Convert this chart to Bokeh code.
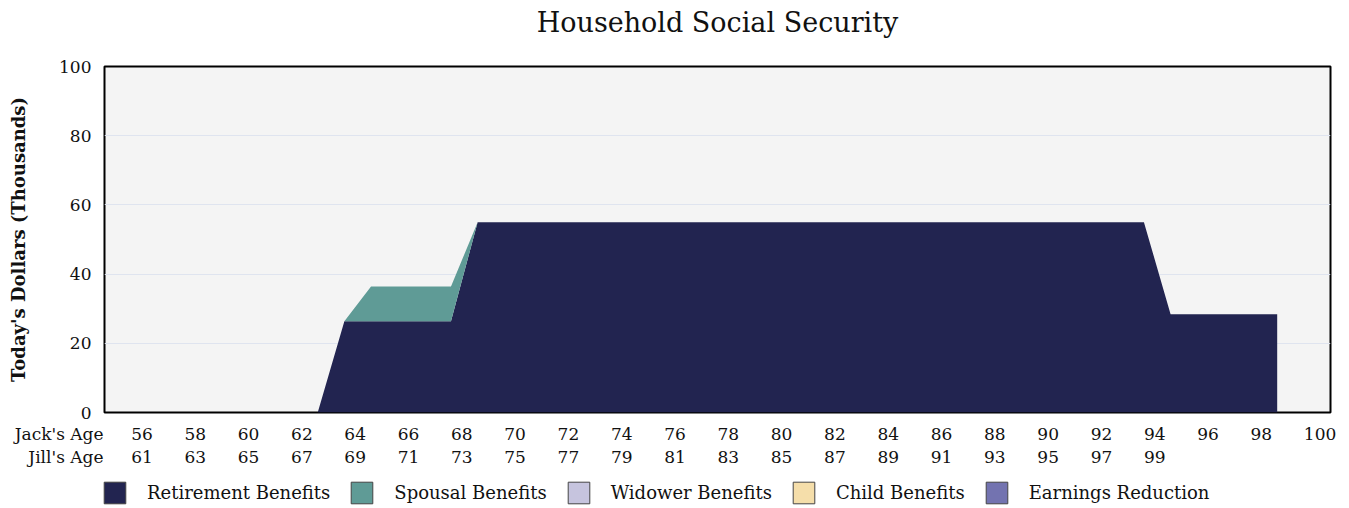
import numpy as np
from bokeh.plotting import figure
from bokeh.layouts import column
from bokeh.models import (Range1d, ColumnDataSource, Legend, LegendItem,
                          FixedTicker)
from bokeh.core.properties import value
from bokeh.embed import file_html
from bokeh.resources import INLINE

# ---------------- data ----------------
chart_title = "Household Social Security"
jack_age = [56, 57, 58, 59, 60, 61, 62, 63, 64, 65, 66, 67, 68, 69, 70, 71, 72,
            73, 74, 75, 76, 77, 78, 79, 80, 81, 82, 83, 84, 85, 86, 87, 88, 89,
            90, 91, 92, 93, 94, 95, 96, 97, 98, 99]
retirement = [0, 0, 0, 0, 0, 0, 0, 0, 26.4, 26.4, 26.4, 26.4, 26.4, 55, 55, 55,
              55, 55, 55, 55, 55, 55, 55, 55, 55, 55, 55, 55, 55, 55, 55, 55, 55,
              55, 55, 55, 55, 55, 55, 28.4, 28.4, 28.4, 28.4, 28.4]
spousal = [0, 0, 0, 0, 0, 0, 0, 0, 0, 10, 10, 10, 10, 0, 0, 0, 0, 0, 0, 0, 0, 0,
           0, 0, 0, 0, 0, 0, 0, 0, 0, 0, 0, 0, 0, 0, 0, 0, 0, 0, 0, 0, 0, 0]
widower = [0, 0, 0, 0, 0, 0, 0, 0, 0, 0, 0, 0, 0, 0, 0, 0, 0, 0, 0, 0, 0, 0,
           0, 0, 0, 0, 0, 0, 0, 0, 0, 0, 0, 0, 0, 0, 0, 0, 0, 0, 0, 0, 0, 0]
child = [0, 0, 0, 0, 0, 0, 0, 0, 0, 0, 0, 0, 0, 0, 0, 0, 0, 0, 0, 0, 0, 0,
         0, 0, 0, 0, 0, 0, 0, 0, 0, 0, 0, 0, 0, 0, 0, 0, 0, 0, 0, 0, 0, 0]
earnings_reduction = [0, 0, 0, 0, 0, 0, 0, 0, 0, 0, 0, 0, 0, 0, 0, 0, 0, 0, 0,
                      0, 0, 0, 0, 0, 0, 0, 0, 0, 0, 0, 0, 0, 0, 0, 0, 0, 0, 0,
                      0, 0, 0, 0, 0, 0]

series_names = ["Retirement Benefits", "Spousal Benefits", "Widower Benefits",
                "Child Benefits", "Earnings Reduction"]
series_colors = ["#222450", "#5f9b96", "#c6c4de", "#f5deaa", "#7373b0"]

jack_tick_ages = [56, 58, 60, 62, 64, 66, 68, 70, 72, 74, 76, 78, 80, 82, 84,
                  86, 88, 90, 92, 94, 96, 98, 100]
jill_tick_ages = [61, 63, 65, 67, 69, 71, 73, 75, 77, 79, 81, 83, 85, 87, 89,
                  91, 93, 95, 97, 99]
row_titles = ["Jack's Age", "Jill's Age"]
y_ticks = [0, 20, 40, 60, 80, 100]

FONT = "DejaVu Serif"
TXT = "#111111"

# layout constants (pixels)
W = 1349
LEFT, RIGHT = 104, 19
X0, X1 = 55, 101
px_per_year = (W - LEFT - RIGHT) / (X1 - X0)
FRAME_TOP, FRAME_BOTTOM = 66, 412
H0 = 40                      # header strip (title)
H1 = 424 - H0                # main chart
H2 = 508 - H0 - H1           # age rows + legend
FULL_X = Range1d(X0 - LEFT / px_per_year, X1 + RIGHT / px_per_year)


def no_align(fig):
    try:
        fig.frame_align = False
    except Exception:
        pass


def strip(height):
    f = figure(width=W, height=height, output_backend="svg",
               toolbar_location=None, x_range=FULL_X,
               y_range=Range1d(height, 0), min_border_left=0,
               min_border_right=0, min_border_top=0, min_border_bottom=0)
    no_align(f)
    f.axis.visible = False
    f.grid.visible = False
    f.outline_line_color = None
    f.background_fill_color = None
    f.border_fill_color = None
    return f


# ---------------- title strip ----------------
h = strip(H0)
h.text(x=[(X0 + X1) / 2], y=[22], text=[chart_title], text_align="center",
       text_baseline="middle", text_font=value(FONT), text_font_size="27px",
       text_color=TXT)

# ---------------- main chart ----------------
p = figure(width=W, height=H1, output_backend="svg", toolbar_location=None,
           title=None, x_range=Range1d(X0, X1), y_range=Range1d(0, 100),
           min_border_left=LEFT, min_border_right=RIGHT,
           min_border_top=FRAME_TOP - H0,
           min_border_bottom=H0 + H1 - FRAME_BOTTOM)
no_align(p)

p.background_fill_color = "#f4f4f4"
p.border_fill_color = "white"
p.outline_line_color = "black"
p.outline_line_width = 2

src = ColumnDataSource(dict(age=jack_age, retirement=retirement, spousal=spousal,
                            widower=widower, child=child,
                            earnings=earnings_reduction))
p.varea_stack(["retirement", "spousal", "widower", "child", "earnings"],
              x="age", color=series_colors, source=src)

p.xaxis.visible = False
p.xgrid.visible = False
yax = p.yaxis[0]
yax.ticker = FixedTicker(ticks=y_ticks)
yax.axis_line_color = None
yax.major_tick_line_color = None
yax.minor_tick_line_color = None
yax.major_tick_out = 0
yax.major_label_standoff = 13
yax.major_label_text_font = FONT
yax.major_label_text_font_size = "17px"
yax.major_label_text_color = TXT
yax.axis_label = "Today's Dollars (Thousands)"
yax.axis_label_text_font = FONT
yax.axis_label_text_font_style = "bold"
yax.axis_label_text_font_size = "18px"
yax.axis_label_text_color = TXT
yax.axis_label_standoff = 27
p.ygrid.ticker = FixedTicker(ticks=[20, 40, 60, 80])
p.ygrid.grid_line_color = "#dfe4ef"
p.ygrid.grid_line_width = 1

# ---------------- age rows + legend strip ----------------
q = strip(H2)
top_q = H0 + H1
ROW1, ROW2 = 433 - top_q, 456 - top_q
q.text(x=jack_tick_ages, y=[ROW1] * len(jack_tick_ages),
       text=[str(a) for a in jack_tick_ages], text_align="left",
       text_baseline="middle", text_font=value(FONT), text_font_size="17px",
       text_color=TXT)
q.text(x=jack_tick_ages[:len(jill_tick_ages)], y=[ROW2] * len(jill_tick_ages),
       text=[str(a) for a in jill_tick_ages], text_align="left",
       text_baseline="middle", text_font=value(FONT), text_font_size="17px",
       text_color=TXT)
q.text(x=[X0, X0], y=[ROW1, ROW2], text=row_titles, text_align="right",
       text_baseline="middle", x_offset=-1, text_font=value(FONT),
       text_font_size="17px", text_color=TXT)

items = []
for name, col in zip(series_names, series_colors):
    nan = np.array([np.nan])
    r = q.quad(left=nan, right=nan, top=nan, bottom=nan, fill_color=col,
               line_color="#444444", line_width=1)
    items.append(LegendItem(label=name, renderers=[r]))
legend = Legend(items=items, orientation="horizontal", location=(101, 2))
legend.glyph_width = 27
legend.glyph_height = 27
legend.label_standoff = 19
legend.spacing = 18
legend.padding = 2
legend.margin = 0
legend.border_line_color = None
legend.background_fill_alpha = 0
legend.label_text_font = FONT
legend.label_text_font_size = "18px"
legend.label_text_color = TXT
q.add_layout(legend)

layout = column(h, p, q, spacing=0)
open("out.html", "w").write(file_html(layout, INLINE))
